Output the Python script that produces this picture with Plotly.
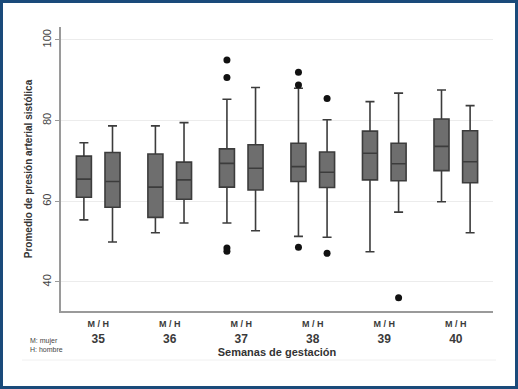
import plotly.graph_objects as go

# ---- data ----
weeks = ["35", "36", "37", "38", "39", "40"]
sexes = ["M", "H"]
q1 = [61.0, 58.5, 56.0, 60.5, 63.5, 62.8, 64.9, 63.4, 65.3, 65.1, 67.6, 64.6]
median = [65.5, 64.9, 63.5, 65.3, 69.4, 68.2, 68.6, 67.2, 71.9, 69.3, 73.6, 69.8]
q3 = [71.2, 72.1, 71.7, 69.7, 73.0, 74.0, 74.4, 72.2, 77.4, 74.4, 80.4, 77.5]
lower = [55.4, 49.9, 52.2, 54.6, 54.6, 52.7, 51.3, 51.1, 47.5, 57.3, 59.9, 52.2]
upper = [74.5, 78.7, 78.7, 79.5, 85.3, 88.2, 88.0, 80.2, 84.7, 86.8, 87.6, 83.7]
# outliers: (box index, value)
outlier_box = [4, 4, 4, 4, 6, 6, 6, 7, 7, 9]
outlier_val = [95.0, 90.7, 48.4, 47.6, 92.0, 88.8, 48.6, 85.5, 47.1, 36.1]
y_ticks = [40, 60, 80, 100]

# ---- layout constants ----
W, H = 518, 389
ML, MR, MT, MB = 61, 25, 27, 78
PW, PH = W - ML - MR, H - MT - MB
OFF = 0.2

def pos(i):
    g, s = divmod(i, 2)
    return g + (-OFF if s == 0 else OFF)

fig = go.Figure()
for i in range(len(q1)):
    fig.add_trace(go.Box(
        x=[pos(i)], q1=[q1[i]], median=[median[i]], q3=[q3[i]],
        lowerfence=[lower[i]], upperfence=[upper[i]],
        width=0.21, whiskerwidth=0.6,
        fillcolor="#6e6e6e", line=dict(color="#3c3c3c", width=1.6),
        boxpoints=False, showlegend=False, hoverinfo="skip",
    ))

fig.add_trace(go.Scatter(
    x=[pos(b) for b in outlier_box], y=outlier_val, mode="markers",
    marker=dict(color="#111111", size=7), showlegend=False, hoverinfo="skip",
))

def px_x(p):
    return (p - ML) / PW

def px_y(p):
    return (H - MB - p) / PH

fig.update_layout(
    width=W, height=H,
    margin=dict(l=ML, r=MR, t=MT, b=MB, autoexpand=False),
    paper_bgcolor="white", plot_bgcolor="white",
    font=dict(family="Liberation Sans, Arial, sans-serif", color="#333333"),
    xaxis=dict(
        range=[-0.52, 5.52], showgrid=False, zeroline=False, automargin=False,
        showline=True, linecolor="#9a9a9a", linewidth=2,
        tickmode="array", tickvals=list(range(len(weeks))),
        ticktext=[f"<span style='font-size:9px'><b>M / H</b></span><br><b>{w}</b>" for w in weeks],
        tickfont=dict(size=12, color="#3a3a3a"), ticks="",
        title=dict(text="<b>Semanas de gestación</b>", font=dict(size=11, color="#333333"), standoff=2),
    ),
    yaxis=dict(
        range=[32.8, 103.2], tickvals=y_ticks, tickangle=-90, automargin=False,
        tickfont=dict(size=11, color="#444444"),
        showgrid=True, gridcolor="#ececec", gridwidth=1, zeroline=False,
        showline=True, linecolor="#9a9a9a", linewidth=2,
        ticks="outside", ticklen=4, tickcolor="#9a9a9a",
        title=dict(text="<b>Promedio de presión arterial sistólica</b>",
                   font=dict(size=10, color="#333333"), standoff=6),
    ),
    annotations=[
        dict(text="M: mujer<br>H: hombre", xref="paper", yref="paper",
             x=px_x(28), y=px_y(335), xanchor="left", yanchor="top", align="left",
             showarrow=False, font=dict(size=7, color="#444444")),
    ],
    shapes=[
        dict(type="line", xref="paper", yref="paper",
             x0=px_x(22), x1=px_x(496), y0=px_y(360), y1=px_y(360),
             line=dict(color="#f0f0f0", width=1), layer="below"),
        dict(type="rect", xref="paper", yref="paper",
             x0=px_x(1.5), x1=px_x(516.5), y0=px_y(387.5), y1=px_y(1.5),
             line=dict(color="#1a4a7a", width=3)),
    ],
)

fig.write_html(
    "out.html",
    config={"displayModeBar": False},
    post_script="document.body.style.margin='0px';document.body.style.overflow='hidden';",
)
